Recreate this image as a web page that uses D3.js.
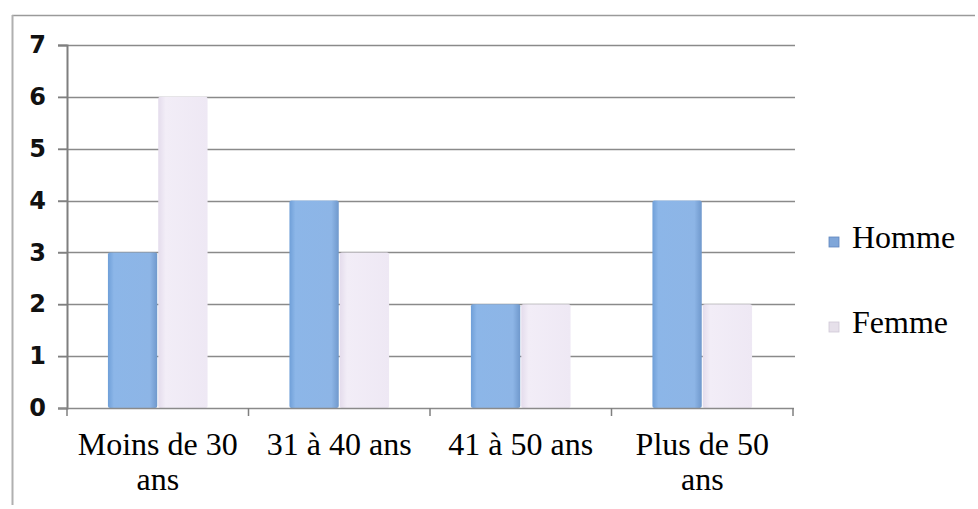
<!DOCTYPE html>
<html>
<head>
<meta charset="utf-8">
<script src="https://cdn.jsdelivr.net/npm/d3@7"></script>
<style>
  html, body { margin: 0; padding: 0; background: #fff; }
  svg { display: block; }
</style>
</head>
<body>
<svg id="chart" width="978" height="509"></svg>
<script>
// Répartition par tranche d'âge et par sexe
const categories = [["Moins de 30", "ans"], ["31 à 40 ans"], ["41 à 50 ans"], ["Plus de 50", "ans"]];
const seriesNames = ["Homme", "Femme"];
const homme = [3, 4, 2, 4];
const femme = [6, 3, 2, 2];
const yTicks = [0, 1, 2, 3, 4, 5, 6, 7];

const svg = d3.select("#chart");

const plot = { left: 67, right: 793, top: 45, bottom: 408 };

const x0 = d3.scaleBand()
  .domain(d3.range(categories.length))
  .range([plot.left, plot.right])
  .paddingInner(0.44)
  .paddingOuter(0.22);
const x1 = d3.scaleBand()
  .domain(seriesNames)
  .range([0, x0.bandwidth()])
  .padding(0.02);
const y = d3.scaleLinear().domain([0, 7]).range([plot.bottom, plot.top]);

const defs = svg.append("defs");
const gH = defs.append("linearGradient").attr("id", "gradHomme").attr("x1", 0).attr("x2", 1).attr("y1", 0).attr("y2", 0);
gH.append("stop").attr("offset", "0%").attr("stop-color", "#6f9fd8");
gH.append("stop").attr("offset", "12%").attr("stop-color", "#8cb6e8");
gH.append("stop").attr("offset", "85%").attr("stop-color", "#8db5e6");
gH.append("stop").attr("offset", "100%").attr("stop-color", "#6f98cc");
const gF = defs.append("linearGradient").attr("id", "gradFemme").attr("x1", 0).attr("x2", 1).attr("y1", 0).attr("y2", 0);
gF.append("stop").attr("offset", "0%").attr("stop-color", "#e4dcec");
gF.append("stop").attr("offset", "15%").attr("stop-color", "#f2edf7");
gF.append("stop").attr("offset", "100%").attr("stop-color", "#eee8f4");

// Cadre extérieur (haut et gauche)
svg.append("line").attr("x1", 12).attr("x2", 975).attr("y1", 15.5).attr("y2", 15.5)
  .attr("stroke", "#9a9a9a").attr("stroke-width", 1.5);
svg.append("line").attr("x1", 12.5).attr("x2", 12.5).attr("y1", 15).attr("y2", 505)
  .attr("stroke", "#b0b0b0").attr("stroke-width", 2);

// Quadrillage horizontal
svg.append("g").selectAll("line").data(yTicks.filter(d => d > 0)).join("line")
  .attr("x1", plot.left - 9).attr("x2", plot.right + 2)
  .attr("y1", d => Math.round(y(d)) + 0.5).attr("y2", d => Math.round(y(d)) + 0.5)
  .attr("stroke", "#8a8a8a").attr("stroke-width", 1.3);

// Barres
const groups = svg.append("g").selectAll("g").data(categories.map((c, i) => i)).join("g")
  .attr("transform", i => `translate(${x0(i)},0)`);
groups.selectAll("rect").data(i => [
  { s: "Homme", v: homme[i] },
  { s: "Femme", v: femme[i] }
]).join("rect")
  .attr("x", d => x1(d.s))
  .attr("y", d => y(d.v))
  .attr("width", x1.bandwidth())
  .attr("height", d => y(0) - y(d.v))
  .attr("rx", 2)
  .attr("fill", d => d.s === "Homme" ? "url(#gradHomme)" : "url(#gradFemme)");

// Axe Y
const yAxis = d3.axisLeft(y).tickValues(yTicks).tickSize(9).tickPadding(12).tickFormat(d3.format("d"));
const gy = svg.append("g").attr("transform", `translate(${plot.left},0)`).call(yAxis);
gy.attr("font-size", null).attr("font-family", null);
gy.select(".domain").attr("stroke", "#7f7f7f").attr("stroke-width", 2);
gy.selectAll(".tick line").attr("stroke", "#7f7f7f").attr("stroke-width", 1.5);
gy.selectAll(".tick text")
  .style("font-family", "'DejaVu Sans', sans-serif")
  .style("font-size", "24px").style("font-weight", "700").attr("fill", "#111");

// Axe X
const boundaries = d3.range(categories.length + 1).map(i =>
  plot.left + i * (plot.right - plot.left) / categories.length);
svg.append("line").attr("x1", plot.left - 9).attr("x2", plot.right + 1)
  .attr("y1", plot.bottom + 0.5).attr("y2", plot.bottom + 0.5)
  .attr("stroke", "#8a8a8a").attr("stroke-width", 1.5);
svg.append("g").selectAll("line").data(boundaries).join("line")
  .attr("x1", d => d).attr("x2", d => d)
  .attr("y1", plot.bottom).attr("y2", plot.bottom + 8)
  .attr("stroke", "#7f7f7f").attr("stroke-width", 1.5);

const xl = svg.append("g").selectAll("text").data(categories).join("text")
  .attr("x", (c, i) => x0(i) + x0.bandwidth() / 2)
  .attr("y", 455)
  .attr("text-anchor", "middle")
  .attr("font-family", "'Liberation Serif', 'Times New Roman', serif")
  .attr("font-size", 32).attr("fill", "#000");
xl.selectAll("tspan").data(c => c).join("tspan")
  .attr("x", function () { return d3.select(this.parentNode).attr("x"); })
  .attr("dy", (d, j) => j === 0 ? 0 : 35)
  .text(d => d);

// Légende
const legend = svg.append("g").selectAll("g").data(seriesNames).join("g")
  .attr("transform", (d, i) => `translate(829,${237 + i * 85})`);
legend.append("rect").attr("width", 10).attr("height", 10)
  .attr("fill", d => d === "Homme" ? "#7fa6d9" : "#e6e0ea")
  .attr("stroke", d => d === "Homme" ? "#5f86bd" : "#cfc8d6").attr("stroke-width", 0.8);
legend.append("text").attr("x", 23).attr("y", 11)
  .attr("font-family", "'Liberation Serif', 'Times New Roman', serif")
  .attr("font-size", 32).attr("fill", "#000")
  .text(d => d);
</script>
</body>
</html>
